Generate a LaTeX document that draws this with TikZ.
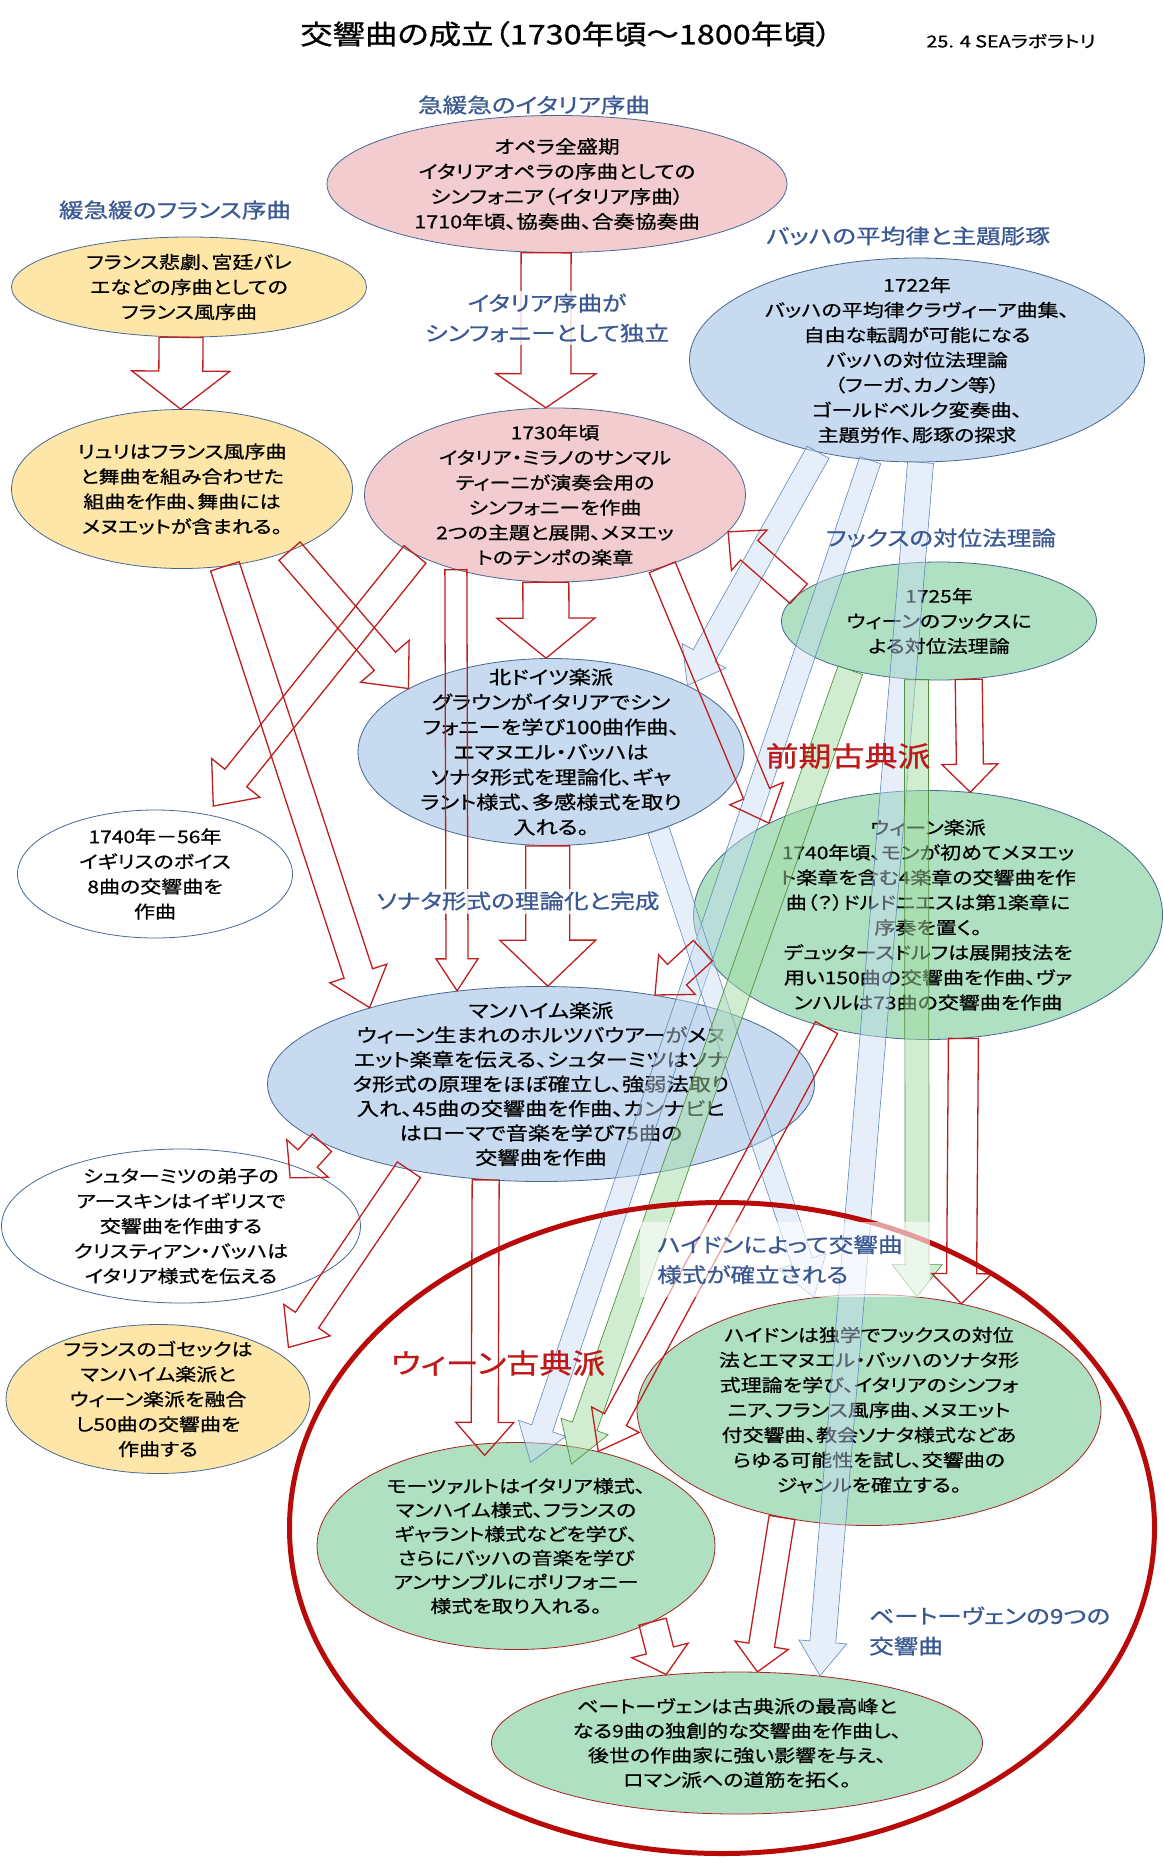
\documentclass[tikz,border=0pt]{standalone}
\usepackage{fontspec}
\setmainfont{Noto Sans CJK JP}[FakeStretch=1.2,RawFeature=+palt,FakeBold=0.8]
\usetikzlibrary{shapes.geometric,calc}

\definecolor{ellline}{RGB}{72,104,145}
\definecolor{pinkfill}{RGB}{242,204,206}
\definecolor{yellowfill}{RGB}{253,230,168}
\definecolor{bluefill}{RGB}{199,218,239}
\definecolor{greenfill}{RGB}{174,224,193}
\definecolor{darkred}{RGB}{165,35,35}
\definecolor{arrred}{RGB}{190,30,30}
\definecolor{bigred}{RGB}{185,10,10}
\definecolor{arrblueline}{RGB}{95,135,185}
\definecolor{arrbluefill}{RGB}{200,220,242}
\definecolor{arrgreenline}{RGB}{80,145,60}
\definecolor{arrgreenfill}{RGB}{165,220,165}
\definecolor{labblue}{RGB}{58,88,145}
\definecolor{labred}{RGB}{190,25,25}

\newcommand\fs[2]{\fontsize{#1}{#2}\selectfont}
% block arrow: [style]{tail}{tip}{shaft half}{head half}{head length}
\newcommand\blockarrow[6][]{%
  \coordinate (hb) at ($(#3)!#6!(#2)$);
  \draw[#1] ($(#2)!#4!90:(#3)$) -- ($(hb)!#4!90:(#3)$) -- ($(hb)!#5!90:(#3)$) -- (#3)
    -- ($(hb)!#5!-90:(#3)$) -- ($(hb)!#4!-90:(#3)$) -- ($(#2)!#4!-90:(#3)$) -- cycle;}

\begin{document}
\begin{tikzpicture}[x=1pt,y=-1pt,
    ell/.style={ellipse, draw=ellline, line width=0.8pt, inner sep=-40pt, align=center, font=\fs{17.5}{25}},
    pinkell/.style={ell, fill=pinkfill},
    yellowell/.style={ell, fill=yellowfill},
    blueell/.style={ell, fill=bluefill},
    whiteell/.style={ell, fill=white},
    greenell/.style={ell, fill=greenfill},
    classell/.style={ell, fill=greenfill, draw=darkred},
    redarr/.style={draw=arrred, line width=1.3pt},
    bluearr/.style={draw=arrblueline, line width=0.6pt, fill=arrbluefill, fill opacity=0.45},
    greenarr/.style={draw=arrgreenline, line width=0.7pt, fill=arrgreenfill, fill opacity=0.5},
    lab/.style={text=labblue, font=\fs{20.5}{30}, align=center, inner sep=3pt},
    redlab/.style={text=labred, font=\fs{27.5}{33}, inner sep=2pt}]

  \useasboundingbox (0,0) rectangle (1163,1857);
  \fill[white] (0,0) rectangle (1163,1857);

  \node (title) at (566,34) {\fs{27}{30}交響曲の成立（1730年頃〜1800年頃）};
  \node (sealab) at (1011,41) {\fs{16.5}{18}25. 4 SEAラボラトリ};

  % ellipses
  \node[pinkell, minimum width=460pt, minimum height=137pt, font=\fs{18}{25}] (opera) at (557,184)
    {オペラ全盛期\\イタリアオペラの序曲としての\\シンフォニア（イタリア序曲）\\1710年頃、協奏曲、合奏協奏曲};
  \node[yellowell, minimum width=355pt, minimum height=100pt] (french) at (189,287)
    {フランス悲劇、宮廷バレ\\エなどの序曲としての\\フランス風序曲};
  \node[blueell, minimum width=455pt, minimum height=204pt] (bach) at (917,360)
    {1722年\\バッハの平均律クラヴィーア曲集、\\自由な転調が可能になる\\バッハの対位法理論\\（フーガ、カノン等）\\ゴールドベルク変奏曲、\\主題労作、彫琢の探求};
  \node[yellowell, minimum width=341pt, minimum height=159pt] (lully) at (182,489)
    {リュリはフランス風序曲\\と舞曲を組み合わせた\\組曲を作曲、舞曲には\\メヌエットが含まれる。};
  \node[pinkell, minimum width=381pt, minimum height=174pt] (milan) at (555,495)
    {1730年頃\\イタリア・ミラノのサンマル\\ティーニが演奏会用の\\シンフォニーを作曲\\2つの主題と展開、メヌエッ\\トのテンポの楽章};
  \node[greenell, minimum width=315pt, minimum height=118pt] (fux) at (939,621)
    {1725年\\ウィーンのフックスに\\よる対位法理論};
  \node[blueell, minimum width=386pt, minimum height=187pt, font=\fs{18.5}{25}] (north) at (551,752)
    {北ドイツ楽派\\グラウンがイタリアでシン\\フォニーを学び100曲作曲、\\エマヌエル・バッハは\\ソナタ形式を理論化、ギャ\\ラント様式、多感様式を取り\\入れる。};
  \node[whiteell, minimum width=275pt, minimum height=128pt] (boyce) at (155,874)
    {1740年－56年\\イギリスのボイス\\8曲の交響曲を\\作曲};
  \node[greenell, minimum width=469pt, minimum height=249pt] (vienna) at (928,915)
    {ウィーン楽派\\1740年頃、モンが初めてメヌエッ\\ト楽章を含む4楽章の交響曲を作\\曲（？）ドルドニエスは第1楽章に\\序奏を置く。\\デュッタースドルフは展開技法を\\用い150曲の交響曲を作曲、ヴァ\\ンハルは73曲の交響曲を作曲};
  \node[blueell, minimum width=547pt, minimum height=195pt, font=\fs{18.5}{24.5}] (mannheim) at (541,1084)
    {マンハイム楽派\\ウィーン生まれのホルツバウアーがメヌ\\エット楽章を伝える、シュターミツはソナ\\タ形式の原理をほぼ確立し、強弱法取り\\入れ、45曲の交響曲を作曲、カンナビヒ\\はローマで音楽を学び75曲の\\交響曲を作曲};
  \node[whiteell, minimum width=359pt, minimum height=154pt] (erskine) at (181,1226)
    {シュターミツの弟子の\\アースキンはイギリスで\\交響曲を作曲する\\クリスティアン・バッハは\\イタリア様式を伝える};
  \node[yellowell, minimum width=304pt, minimum height=149pt] (gossec) at (158,1399)
    {フランスのゴセックは\\マンハイム楽派と\\ウィーン楽派を融合\\し50曲の交響曲を\\作曲する};
  \node[classell, minimum width=464pt, minimum height=231pt] (haydn) at (869,1410)
    {ハイドンは独学でフックスの対位\\法とエマヌエル・バッハのソナタ形\\式理論を学び、イタリアのシンフォ\\ニア、フランス風序曲、メヌエット\\付交響曲、教会ソナタ様式などあ\\らゆる可能性を試し、交響曲の\\ジャンルを確立する。};
  \node[classell, minimum width=398pt, minimum height=207pt, font=\fs{17.5}{24}] (mozart) at (516,1546)
    {モーツァルトはイタリア様式、\\マンハイム様式、フランスの\\ギャラント様式などを学び、\\さらにバッハの音楽を学び\\アンサンブルにポリフォニー\\様式を取り入れる。};
  \node[classell, minimum width=491pt, minimum height=142pt, font=\fs{17.5}{24.5}] (beethoven) at (737,1743)
    {ベートーヴェンは古典派の最高峰と\\なる9曲の独創的な交響曲を作曲し、\\後世の作曲家に強い影響を与え、\\ロマン派への道筋を拓く。};

  % free ends of arrows that stop inside a node
  \coordinate (boycetip)   at ($(boyce.50)+(8,-8)$);
  \coordinate (erskinetip) at ($(erskine.28)+(-4,12)$);
  \coordinate (gossectip)  at ($(gossec.20)+(8,-7)$);
  \coordinate (mozarttip)  at ($(mozart.107)+(0,12)$);
  \coordinate (bachtip)    at ($(mozart.82)+(0,20)$);
  \coordinate (fuxtip)     at ($(mozart.61)+(0,18)$);

  % blue and green arrows
  \blockarrow[bluearr]{bach.-137}{north.26}{12.5pt}{25pt}{34pt}
  \blockarrow[bluearr]{bach.-115}{bachtip}{11pt}{25pt}{36pt}
  \blockarrow[bluearr]{north.-36}{haydn.116}{11pt}{25pt}{38pt}
  \blockarrow[bluearr]{bach.-88}{beethoven.39}{13pt}{24pt}{34pt}
  \blockarrow[greenarr]{fux.-151}{fuxtip}{13pt}{25pt}{40pt}
  \blockarrow[greenarr]{fux.-111}{haydn.67}{12pt}{25pt}{32pt}

  % red arrows
  \blockarrow[redarr]{french.-99}{lully.91}{22pt}{49pt}{38pt}
  \blockarrow[redarr]{opera.-99}{milan.96}{25pt}{50pt}{34pt}
  \blockarrow[redarr]{milan.-96}{north.93}{23pt}{49pt}{40pt}
  \blockarrow[redarr]{north.-92}{mannheim.86}{22pt}{48pt}{46pt}
  \blockarrow[redarr]{lully.-61}{mannheim.156}{15pt}{30pt}{36pt}
  \blockarrow[redarr]{lully.-30}{north.156}{14pt}{32pt}{36pt}
  \blockarrow[redarr]{milan.-157}{boycetip}{14pt}{31pt}{36pt}
  \blockarrow[redarr]{milan.-143}{mannheim.132}{11pt}{21pt}{32pt}
  \blockarrow[redarr]{milan.-34}{vienna.150}{14pt}{29pt}{32pt}
  \blockarrow[redarr]{fux.169}{milan.-12}{13pt}{27pt}{28pt}
  \blockarrow[redarr]{fux.-63}{vienna.71}{13.5pt}{28pt}{28pt}
  \blockarrow[redarr]{vienna.-171}{mannheim.38}{14pt}{27pt}{30pt}
  \blockarrow[redarr]{vienna.-132}{mozart.49}{12.5pt}{27pt}{36pt}
  \blockarrow[redarr]{vienna.-74}{haydn.49}{15pt}{30pt}{30pt}
  \blockarrow[redarr]{mannheim.-165}{erskinetip}{13pt}{28pt}{26pt}
  \blockarrow[redarr]{mannheim.-147}{gossectip}{14pt}{28pt}{33pt}
  \blockarrow[redarr]{mannheim.-120}{mozarttip}{13.5pt}{29pt}{33pt}
  \blockarrow[redarr]{mozart.-29}{beethoven.136}{14pt}{29pt}{25pt}
  \blockarrow[redarr]{haydn.-129}{beethoven.74}{13pt}{27pt}{27pt}

  % Vienna classics
  \node[ellipse, draw=bigred, line width=5pt, inner sep=0pt, minimum width=865pt, minimum height=651pt] (classic) at (722,1528) {};

  % labels
  \node[lab] (lbitaly) at (534,105) {急緩急のイタリア序曲};
  \node[lab] (lbfrench) at (175,210) {緩急緩のフランス序曲};
  \node[lab] (lbbach) at (908,236) {バッハの平均律と主題彫琢};
  \node[lab, fill=white, fill opacity=0.8, text opacity=1] (lbindep) at (547,318) {イタリア序曲が\\シンフォニーとして独立};
  \node[lab] (lbfux) at (941,538) {フックスの対位法理論};
  \node[redlab] (lbearly) at (848,756) {前期古典派};
  \node[lab, fill=white, fill opacity=0.8, text opacity=1] (lbsonata) at (518,901) {ソナタ形式の理論化と完成};
  \node[lab, align=left, anchor=north west, text width=256pt, inner xsep=17pt, minimum height=75pt,
        fill=white, fill opacity=0.6, text opacity=1] (lbhaydn) at (640,1222) {ハイドンによって交響曲\\様式が確立される};
  \node[redlab] (lbvienna) at (498,1363) {ウィーン古典派};
  \node[lab, align=left, anchor=west] (lbbeet) at (866,1631) {ベートーヴェンの9つの\\交響曲};
\end{tikzpicture}
\end{document}
